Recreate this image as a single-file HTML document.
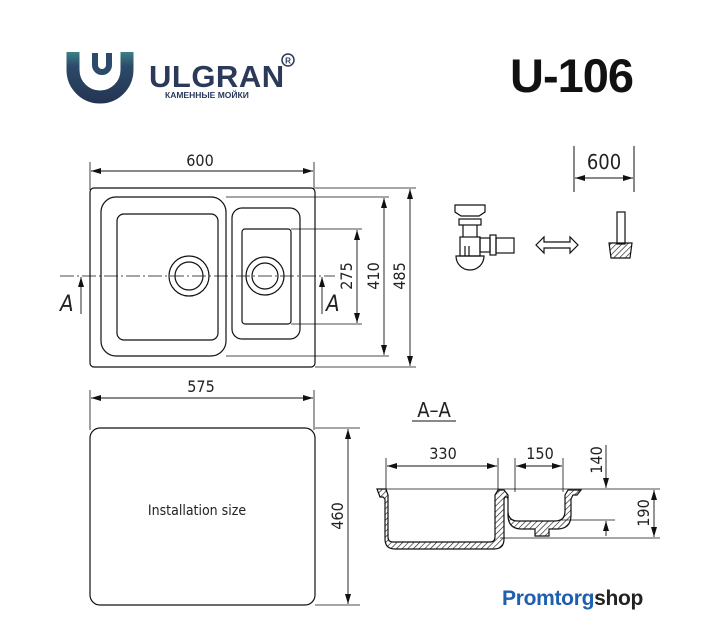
<!DOCTYPE html>
<html><head><meta charset="utf-8"><style>
html,body{margin:0;padding:0;background:#fff}
svg{display:block}
text{font-family:"Liberation Sans",sans-serif}
.t{font-family:"DejaVu Sans Condensed","DejaVu Sans","Liberation Sans",sans-serif;fill:#222}
</style></head><body>
<svg width="707" height="640" viewBox="0 0 707 640" xmlns="http://www.w3.org/2000/svg">
<defs>
<marker id="a" viewBox="0 0 10 6" refX="10" refY="3" markerWidth="10" markerHeight="6" orient="auto-start-reverse" markerUnits="userSpaceOnUse"><path d="M0,0 L10,3 L0,6 Z" fill="#111"/></marker>
<pattern id="h" width="4" height="4" patternUnits="userSpaceOnUse" patternTransform="rotate(45)"><line x1="0" y1="0" x2="0" y2="4" stroke="#111" stroke-width="1.2"/></pattern>
<linearGradient id="lg" gradientUnits="userSpaceOnUse" x1="0" y1="50" x2="0" y2="104"><stop offset="0" stop-color="#3f8a8a"/><stop offset="0.3" stop-color="#2c4a6a"/><stop offset="1" stop-color="#243452"/></linearGradient>
</defs>
<rect width="707" height="640" fill="#fff"/>

<!-- Logo -->
<path d="M73,52 v18 a27,27 0 0 0 54,0 v-18" fill="none" stroke="url(#lg)" stroke-width="13"/>
<path d="M95,53 v12 a7,7 0 0 0 14,0 v-12" fill="none" stroke="#2c4a6a" stroke-width="6"/>
<text x="149" y="87" font-size="31" font-weight="bold" fill="#2b3a5a" letter-spacing="0.5">ULGRAN</text>
<circle cx="288" cy="60" r="6" fill="none" stroke="#2b3a5a" stroke-width="1.5"/>
<text x="288" y="63.5" font-size="8" font-weight="bold" fill="#2b3a5a" text-anchor="middle">R</text>
<text x="165" y="98" font-size="8.5" font-weight="bold" fill="#2b3a5a">КАМЕННЫЕ МОЙКИ</text>
<text x="510" y="92" font-size="47" font-weight="bold" fill="#111" letter-spacing="-1">U-106</text>

<g stroke="#111" fill="none" stroke-width="1.2">
<line x1="90" y1="162" x2="90" y2="190" stroke-width="0.8"/>
<line x1="314" y1="162" x2="314" y2="190" stroke-width="0.8"/>
<line x1="91" y1="171" x2="313" y2="171" stroke-width="0.9" marker-start="url(#a)" marker-end="url(#a)"/>
<rect x="90" y="188" width="225" height="179" rx="4"/>
<rect x="101" y="197" width="125" height="159" rx="15"/>
<rect x="117" y="214" width="101" height="126" rx="7"/>
<circle cx="189" cy="276" r="20"/><circle cx="189" cy="276" r="14"/>
<rect x="232" y="208" width="68" height="131" rx="10"/>
<rect x="242" y="229" width="49" height="95" rx="3"/>
<circle cx="265" cy="276" r="19"/><circle cx="265" cy="276" r="13"/>
<line x1="60" y1="276" x2="335" y2="276" stroke-width="0.7" stroke-dasharray="14,3,2,3"/>
<line x1="81" y1="277" x2="81" y2="314" stroke-width="0.9" marker-start="url(#a)"/>
<line x1="322" y1="277" x2="322" y2="314" stroke-width="0.9" marker-start="url(#a)"/>
<line x1="291" y1="229" x2="362" y2="229" stroke-width="0.8"/>
<line x1="291" y1="324" x2="362" y2="324" stroke-width="0.8"/>
<line x1="357" y1="230" x2="357" y2="323" stroke-width="0.9" marker-start="url(#a)" marker-end="url(#a)"/>
<line x1="226" y1="197" x2="389" y2="197" stroke-width="0.8"/>
<line x1="226" y1="356" x2="389" y2="356" stroke-width="0.8"/>
<line x1="384" y1="198" x2="384" y2="355" stroke-width="0.9" marker-start="url(#a)" marker-end="url(#a)"/>
<line x1="315" y1="188" x2="416" y2="188" stroke-width="0.8"/>
<line x1="315" y1="367" x2="416" y2="367" stroke-width="0.8"/>
<line x1="410" y1="189" x2="410" y2="366" stroke-width="0.9" marker-start="url(#a)" marker-end="url(#a)"/>

<line x1="90" y1="390" x2="90" y2="430" stroke-width="0.8"/>
<line x1="314" y1="390" x2="314" y2="430" stroke-width="0.8"/>
<line x1="91" y1="398" x2="313" y2="398" stroke-width="0.9" marker-start="url(#a)" marker-end="url(#a)"/>
<rect x="90" y="428" width="225" height="177" rx="10"/>
<line x1="315" y1="428" x2="360" y2="428" stroke-width="0.8"/>
<line x1="315" y1="605" x2="360" y2="605" stroke-width="0.8"/>
<line x1="348" y1="429" x2="348" y2="604" stroke-width="0.9" marker-start="url(#a)" marker-end="url(#a)"/>

<line x1="574" y1="146" x2="574" y2="192" stroke-width="1"/>
<line x1="634" y1="146" x2="634" y2="192" stroke-width="1"/>
<line x1="575" y1="178" x2="633" y2="178" stroke-width="0.9" marker-start="url(#a)" marker-end="url(#a)"/>
<path d="M455,205 h30 v7 l-6,4 h-18 l-6,-4 z"/>
<rect x="459" y="219" width="22" height="6"/>
<path d="M463,225 v12 M477,225 v12"/>
<rect x="460" y="237" width="20" height="19"/>
<rect x="480" y="238" width="10" height="14"/>
<rect x="490" y="235" width="6" height="20"/>
<rect x="496" y="238" width="18" height="15"/>
<path d="M456,256 h28 a14,14 0 0 1 -28,0 z"/>
<path d="M465,246 v10 M469,246 v10"/>
<path d="M536,245 l8,-8 v5 h26 v-5 l8,8 l-8,8 v-5 h-26 v5 z"/>
<rect x="617" y="212" width="8" height="32"/>
<path d="M609,243 h23 l-2,15 h-19 z" fill="url(#h)"/>

<line x1="412" y1="421" x2="456" y2="421" stroke-width="1"/>
<line x1="386" y1="458" x2="386" y2="492" stroke-width="0.8"/>
<line x1="498" y1="458" x2="498" y2="492" stroke-width="0.8"/>
<line x1="387" y1="466" x2="497" y2="466" stroke-width="0.9" marker-start="url(#a)" marker-end="url(#a)"/>
<line x1="515" y1="458" x2="515" y2="492" stroke-width="0.8"/>
<line x1="563" y1="458" x2="563" y2="492" stroke-width="0.8"/>
<line x1="516" y1="466" x2="562" y2="466" stroke-width="0.9" marker-start="url(#a)" marker-end="url(#a)"/>
<line x1="377" y1="489" x2="660" y2="489" stroke-width="0.8"/>
<line x1="500" y1="538" x2="660" y2="538" stroke-width="0.8"/>
<line x1="560" y1="520" x2="615" y2="520" stroke-width="0.8"/>
<line x1="606" y1="445" x2="606" y2="488" stroke-width="0.9" marker-end="url(#a)"/>
<line x1="606" y1="536" x2="606" y2="521" stroke-width="0.9" marker-end="url(#a)"/>
<line x1="654" y1="490" x2="654" y2="537" stroke-width="0.9" marker-start="url(#a)" marker-end="url(#a)"/>
<path d="M377,489 h9 l2,6 v42 q0,5 5,5 h97 q5,0 5,-5 v-42 l3,-5 h6 l4,5 v16 q0,10 10,10 h37 q10,0 10,-10 v-16 l3,-5 h13 l-4,5 h-4 l-2,4 v16 q0,14 -14,14 h-8 v7 h-14 v-7 h-13 q-14,0 -14,-14 v-16 l-1,-2 h-2 l-1,2 v40 q0,10 -10,10 h-99 q-10,0 -10,-10 v-40 l-2,-2 h-3 z" fill="url(#h)"/>
</g>

<text class="t" x="200" y="166" font-size="16" text-anchor="middle">600</text>
<text class="t" x="60" y="311" font-size="22" font-style="italic">A</text>
<text class="t" x="326" y="311" font-size="22" font-style="italic">A</text>
<text class="t" font-size="16" text-anchor="middle" transform="translate(352,276) rotate(-90)">275</text>
<text class="t" font-size="16" text-anchor="middle" transform="translate(379,276) rotate(-90)">410</text>
<text class="t" font-size="16" text-anchor="middle" transform="translate(405,276) rotate(-90)">485</text>
<text class="t" x="201" y="392" font-size="16" text-anchor="middle">575</text>
<text class="t" x="197" y="515" font-size="14" text-anchor="middle">Installation size</text>
<text class="t" font-size="16" text-anchor="middle" transform="translate(343,516) rotate(-90)">460</text>
<text class="t" x="604" y="169" font-size="20" text-anchor="middle">600</text>
<text class="t" x="434" y="417" font-size="20" text-anchor="middle">A–A</text>
<text class="t" x="443" y="459" font-size="16" text-anchor="middle">330</text>
<text class="t" x="540" y="459" font-size="16" text-anchor="middle">150</text>
<text class="t" font-size="16" text-anchor="middle" transform="translate(602,460) rotate(-90)">140</text>
<text class="t" font-size="16" text-anchor="middle" transform="translate(649,513) rotate(-90)">190</text>
<text x="502" y="605" font-size="21" font-weight="bold" fill="#1f5fb0" letter-spacing="-0.3">Promtorg<tspan fill="#222">shop</tspan></text>
</svg>
</body></html>
